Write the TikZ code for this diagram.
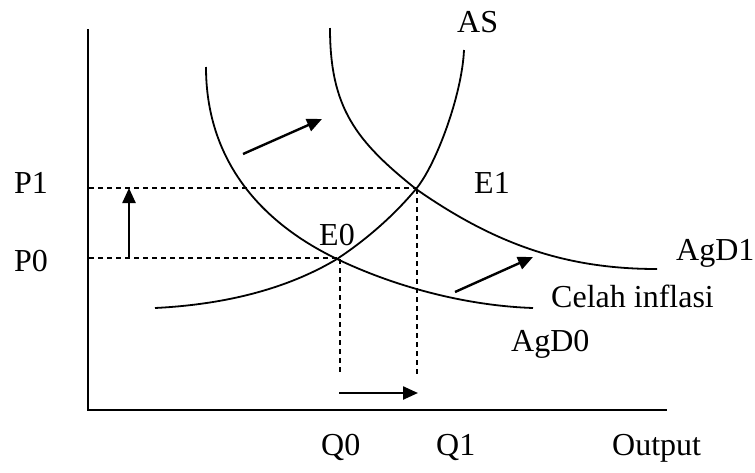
\documentclass[tikz,border=0pt]{standalone}
\usepackage{fontspec}
\setmainfont{Liberation Serif}
\usetikzlibrary{arrows.meta}
\begin{document}
\begin{tikzpicture}[x=1pt,y=-1pt,
  curve/.style={line width=1.8pt},
  axis/.style={line width=1.8pt},
  guide/.style={line width=1.4pt,dash pattern=on 5pt off 4pt},
  movearrow/.style={line width=2.4pt,-{Triangle[length=15pt,width=13pt]}},
  lab/.style={anchor=base west,inner sep=0pt,font=\fontsize{32}{38}\selectfont}]
\useasboundingbox (0,0) rectangle (755,472);
% points
\coordinate (O) at (88,410);
\coordinate (ytop) at (88,29);
\coordinate (xend) at (667,410);
\coordinate (E0) at (337,259);
\coordinate (E1) at (416,189);
\coordinate (P0) at (89,258);
\coordinate (P1) at (89,188);
\coordinate (Q0) at (340,375);
\coordinate (Q1) at (417,375);
% axes
\draw[axis] (ytop) -- (O) -- (xend);
% AS
\coordinate (ASs) at (155,308);
\coordinate (ASe) at (464,50);
\draw[curve] (ASs) .. controls (225,304.5) and (287,289) .. (E0)
  .. controls (362,242.5) and (391,219) .. (E1)
  .. controls (436,165) and (462,95) .. (ASe);
% AgD0
\coordinate (D0s) at (206,67);
\coordinate (D0e) at (533,308);
\draw[curve] (D0s) .. controls (206,157) and (257,220.6) .. (E0)
  .. controls (402,290) and (473,306) .. (D0e);
% AgD1
\coordinate (D1s) at (330,28);
\coordinate (D1e) at (657,269);
\draw[curve] (D1s) .. controls (330,108) and (356,141) .. (E1)
  .. controls (496,245) and (567,269) .. (D1e);
% guides
\draw[guide] (P1) -- (P1 -| E1);
\draw[guide] (P0) -- (P0 -| E0);
\draw[guide] (E0 -| Q0) -- (Q0);
\draw[guide] (E1 -| Q1) -- (Q1);
% shift arrows
\coordinate (ua) at (129,258); \coordinate (ub) at (129,188);
\draw[movearrow] (ua) -- (ub);
\coordinate (da) at (243,154); \coordinate (db) at (322,119);
\draw[movearrow] (da) -- (db);
\coordinate (ea) at (455,292); \coordinate (eb) at (533,257);
\draw[movearrow] (ea) -- (eb);
\coordinate (qa) at (339,393); \coordinate (qb) at (418,393);
\draw[movearrow] (qa) -- (qb);
% labels
\node[lab] (lP1) at (14,193) {P1};
\node[lab] (lP0) at (14,271) {P0};
\node[lab] (lE0) at (319,245) {E0};
\node[lab] (lE1) at (474,193) {E1};
\node[lab] (lAS) at (457,32) {AS};
\node[lab] (lAgD1) at (676,260) {AgD1};
\node[lab] (lCel) at (551,307) {Celah inflasi};
\node[lab] (lAgD0) at (511,351) {AgD0};
\node[lab] (lQ0) at (321,455) {Q0};
\node[lab] (lQ1) at (436,455) {Q1};
\node[lab] (lOut) at (612,455) {Output};
\end{tikzpicture}
\end{document}
